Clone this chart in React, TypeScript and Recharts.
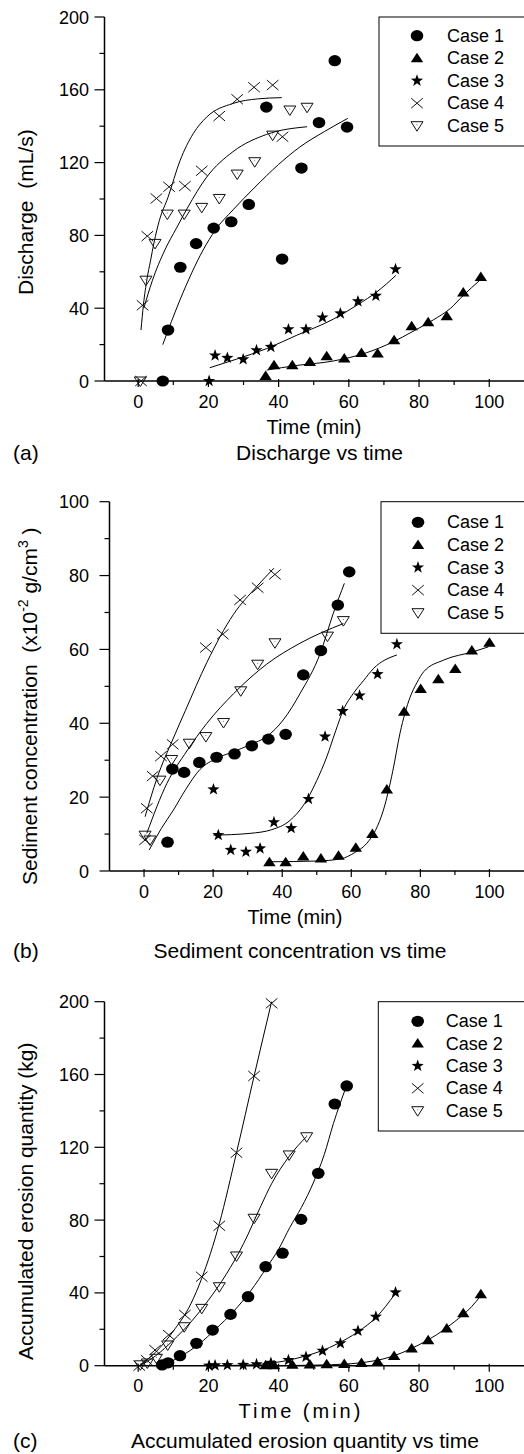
import React from 'react';
import { ComposedChart, Scatter, Line, XAxis, YAxis } from 'recharts';

const FONT = '"Liberation Sans", Arial, Helvetica, sans-serif';

// ---------- labels / ticks ----------
const caseNames = ['Case 1', 'Case 2', 'Case 3', 'Case 4', 'Case 5'];
const xTickValues = [0, 10, 20, 30, 40, 50, 60, 70, 80, 90, 100];
const xLabelValues = [0, 20, 40, 60, 80, 100];
const yTicks200 = [0, 20, 40, 60, 80, 100, 120, 140, 160, 180, 200];
const yLabels200 = [0, 40, 80, 120, 160, 200];
const yTicks100 = [0, 10, 20, 30, 40, 50, 60, 70, 80, 90, 100];
const yLabels100 = [0, 20, 40, 60, 80, 100];

// ---------- (a) Discharge vs time ----------
const dischargeCase1 = [[7, 0], [8.5, 28], [12, 62.5], [16.5, 75.5], [21.5, 84], [26.5, 87.5], [31.5, 97], [36.5, 150.5], [41, 67], [46.5, 117], [51.5, 142], [56, 176], [59.5, 139.5]];
const dischargeCase2 = [[36.3, 2.8], [38.7, 8.6], [43.9, 8.6], [48.9, 10.5], [53.7, 13.6], [58.7, 12.3], [63.6, 15.4], [68.2, 15.1], [72.9, 22.4], [77.9, 30.1], [82.6, 32.3], [87.9, 35.6], [92.6, 48.6], [97.6, 57.2]];
const dischargeCase3 = [[20.2, 0], [21.9, 14], [25.4, 12.7], [29.9, 11.9], [33.7, 16.9], [37.8, 18.7], [42.8, 28.4], [47.8, 28.4], [52.5, 34.9], [57.6, 37.1], [62.6, 43.8], [67.7, 46.8], [73.3, 61.4]];
const dischargeCase4 = [[0.8, 0], [1.25, 41.6], [2.6, 79.6], [5.2, 100.3], [8.8, 106.7], [13.3, 107.1], [18.1, 115.5], [23.1, 145.6], [28.2, 154.8], [33, 161.4], [38.3, 162.6], [41.1, 134.2]];
const dischargeCase5 = [[0.6, 0], [2.2, 55.4], [4.8, 75.6], [8.3, 91.7], [13.1, 91.7], [18.1, 95.4], [23.1, 100.3], [28.2, 113.7], [33.2, 120.5], [38.3, 135.1], [43.2, 148.9], [48.1, 150.4]];

const dischargeFit1 = [[7, 20], [12, 45], [18.5, 72], [22, 83], [27, 94], [33, 106], [40, 119], [46, 128.5], [53, 137], [59.7, 144.3]];
const dischargeFit2 = [[36.6, 6], [45, 8.5], [55.6, 11], [65, 15.5], [72.6, 21.5], [78, 27], [84, 33.5], [89, 40], [92.6, 47], [97.4, 55.5]];
const dischargeFit3 = [[20.4, 7.3], [28, 12], [36.6, 17.8], [45, 25], [55.6, 34], [62.6, 42], [68, 49], [73.4, 58]];
const dischargeFit4 = [[0.8, 28], [1.5, 42], [2.5, 56], [3.5, 66], [4.5, 76], [6, 88], [8.5, 101], [11.9, 121], [15.7, 136], [19.5, 145], [27, 152.5], [34, 155], [40.9, 155.7]];
const dischargeFit5 = [[1.6, 40], [4, 55], [7.6, 72], [10.9, 84], [14, 95], [19.5, 112], [27, 126], [36.6, 135.5], [48.1, 139.7]];

// ---------- (b) Sediment concentration vs time ----------
const sedimentCase1 = [[6.8, 7.8], [8.2, 27.6], [11.6, 26.7], [16, 29.4], [21, 30.8], [26.2, 31.7], [31.2, 33.9], [36, 35.7], [41, 37], [46.1, 53.1], [51.2, 59.7], [56.1, 72], [59.4, 81]];
const sedimentCase2 = [[36.3, 2.4], [41, 2.4], [46.1, 3.9], [51.2, 3.4], [56.3, 4.1], [61.3, 6.3], [66.1, 10], [70.3, 22.1], [75.3, 43.1], [80.1, 49.3], [85.2, 51.9], [90.1, 54.7], [94.9, 59.7], [100, 61.8]];
const sedimentCase3 = [[20.1, 22.1], [21.5, 9.7], [25.1, 5.7], [29.5, 5.2], [33.6, 6.1], [37.6, 13.2], [42.6, 11.6], [47.6, 19.5], [52.4, 36.4], [57.5, 43.3], [62.4, 47.5], [67.6, 53.3], [73.2, 61.4]];
const sedimentCase4 = [[0.3, 8.4], [0.8, 17], [2.5, 25.7], [4.9, 31.1], [8.3, 34.3], [17.9, 60.5], [22.8, 64.1], [27.8, 73.4], [32.9, 76.7], [37.9, 80.3]];
const sedimentCase5 = [[0.3, 9.7], [1.7, 8.4], [4.6, 24.6], [8, 30.2], [13.1, 34.6], [17.9, 36.4], [23, 40.2], [28, 48.8], [32.9, 56], [37.9, 61.8], [53.1, 63.6], [57.7, 67.8]];

const sedimentFit1 = [[1.5, 5.7], [5, 11.5], [8.5, 16.5], [12, 22], [16.2, 27.5], [21, 30.5], [25.9, 32.3], [30.7, 34.2], [35.5, 36.4], [40.3, 40.9], [45.2, 48.1], [51, 58.9], [54.8, 69.8], [58, 77.9]];
const sedimentFit2 = [[36.3, 2.5], [50, 2.7], [57, 3.3], [61, 5], [64.5, 7.5], [67, 11], [69.3, 16.5], [72, 27], [74.1, 37.3], [77, 47], [79, 51], [81, 54], [86.7, 57.1], [95.4, 59.4], [99.7, 60.7]];
const sedimentFit3 = [[20.1, 9.7], [30.7, 10.2], [37, 11.2], [42, 13.5], [47.1, 19.2], [50, 24.5], [52.9, 30.9], [55.5, 38], [57.7, 43.6], [60.6, 48.1], [63.5, 51.5], [66.4, 54.8], [73.2, 58.5]];
const sedimentFit4 = [[0.3, 14.7], [3.7, 25], [8.5, 36], [12, 43.5], [18.2, 56.5], [25.9, 69.5], [32.6, 77], [37.6, 82]];
const sedimentFit5 = [[0.8, 10.2], [6.6, 23.7], [12.4, 32.5], [18.2, 40], [25.9, 48], [35.5, 56], [45.2, 61.7], [57.7, 67]];

// ---------- (c) Accumulated erosion quantity vs time ----------
const erosionCase1 = [[6.8, 0.4], [8.5, 1.6], [11.9, 5.5], [16.6, 12.3], [21.2, 19.6], [26.3, 28.2], [31.3, 37.9], [36.3, 54.4], [41.1, 61.8], [46.4, 80.4], [51.3, 105.7], [56, 143.8], [59.4, 153.7]];
const erosionCase2 = [[36.3, 0.2], [38.7, 0.3], [43.9, 0.5], [48.9, 0.6], [53.7, 0.8], [58.7, 1], [63.6, 1.5], [68.2, 2.2], [72.9, 5.3], [77.9, 9.5], [82.6, 14], [87.9, 20.5], [92.6, 28.8], [97.6, 39.2]];
const erosionCase3 = [[20.2, 0], [21.9, 0.2], [25.4, 0.3], [29.9, 0.4], [33.7, 0.8], [37.8, 1.5], [42.8, 3.1], [47.8, 4.9], [52.5, 8.2], [57.6, 12.3], [62.6, 19.1], [67.7, 26.9], [73.3, 40.3]];
const erosionCase4 = [[0.3, 0], [2.4, 3.1], [4.8, 8.6], [8.7, 16.9], [13.3, 27.9], [18.1, 48.9], [23.1, 76.9], [28, 117], [33, 159.2], [38, 199.1]];
const erosionCase5 = [[0.6, 0.5], [2.6, 1.5], [5.2, 4.1], [8.4, 11.4], [13.1, 21.4], [18.1, 31.5], [23.1, 43.4], [28, 60.3], [33, 81], [38, 105.7], [43, 115.8], [48, 125.8]];

const erosionFit1 = [[6.8, 0], [12, 5], [17.6, 12.3], [22, 20], [27.1, 29.7], [32, 41], [36.6, 54], [40, 64], [43.2, 76], [46.5, 87], [50, 101], [53, 116], [55.6, 133], [58.9, 151.5]];
const erosionFit2 = [[36.3, 0], [50, 0.3], [60, 1], [65, 2], [70, 3.8], [75, 7], [80, 11.5], [85, 17], [90, 24], [95, 32.5], [97.6, 38.5]];
const erosionFit3 = [[20.2, 0], [30, 0.3], [37, 1.2], [42, 2.7], [47, 5], [52, 8], [57, 12.3], [62.5, 18.5], [68, 27], [73, 39]];
const erosionFit4 = [[0.3, 0], [5, 7.5], [10, 19], [15, 34], [18.1, 48], [23.1, 78], [28, 117], [33, 159], [38, 200]];
const erosionFit5 = [[0.5, 0], [5, 5.5], [10, 14], [15, 24], [20, 36], [25, 50], [30, 67], [35, 88], [38, 100], [43, 115], [48, 126]];

const toPts = (arr: number[][]) => arr.map(([x, y]) => ({ x, y }));

// ---------- markers ----------
function marker(kind: number, cx: number, cy: number) {
  if (cx == null || cy == null || isNaN(cx) || isNaN(cy)) return <g />;
  switch (kind) {
    case 0:
      return <ellipse cx={cx} cy={cy} rx={6.3} ry={5.6} fill="#000" />;
    case 1:
      return <polygon points={`${cx},${cy - 5.5} ${cx + 6.2},${cy + 4} ${cx - 6.2},${cy + 4}`} fill="#000" />;
    case 2: {
      const pts: string[] = [];
      for (let i = 0; i < 10; i++) {
        const r = i % 2 === 0 ? 6.4 : 2.6;
        const a = (-90 + i * 36) * Math.PI / 180;
        pts.push(`${cx + r * Math.cos(a)},${cy + r * Math.sin(a)}`);
      }
      return <polygon points={pts.join(' ')} fill="#000" />;
    }
    case 3:
      return (
        <g stroke="#111" strokeWidth={1}>
          <line x1={cx - 5.8} y1={cy - 5} x2={cx + 5.8} y2={cy + 5} />
          <line x1={cx - 5.8} y1={cy + 5} x2={cx + 5.8} y2={cy - 5} />
        </g>
      );
    default:
      return (
        <g>
          <polygon points={`${cx - 6},${cy - 4} ${cx + 6},${cy - 4} ${cx},${cy + 5.5}`} fill="none" stroke="#111" strokeWidth={1} />
          <circle cx={cx} cy={cy - 1} r={0.5} fill="#555" />
        </g>
      );
  }
}

// ---------- ticks ----------
const makeXTick = (labels: number[]) => (p: any) => {
  const v = p.payload.value;
  const major = labels.includes(v);
  return (
    <g>
      <line x1={p.x} x2={p.x} y1={p.y - (major ? 2 : 0)} y2={p.y + (major ? 6 : 4)} stroke="#000" strokeWidth={1.2} />
      {major && (
        <text x={p.x} y={p.y + 26.5} textAnchor="middle" fontFamily={FONT} fontSize={18} fill="#000">{v}</text>
      )}
    </g>
  );
};

const makeYTick = (labels: number[], gap: number) => (p: any) => {
  const v = p.payload.value;
  const major = labels.includes(v);
  return (
    <g>
      <line x1={p.x - (major ? 10 : 5)} x2={p.x} y1={p.y} y2={p.y} stroke="#000" strokeWidth={1.2} />
      {major && (
        <text x={p.x - gap} y={p.y + 6.5} textAnchor="end" fontFamily={FONT} fontSize={18} fill="#000">{v}</text>
      )}
    </g>
  );
};

const makeRightTick = (labels: number[]) => (p: any) => {
  const v = p.payload.value;
  const major = labels.includes(v);
  return <line x1={p.x - (major ? 7 : 4)} x2={p.x} y1={p.y} y2={p.y} stroke="#000" strokeWidth={1.2} />;
};

type PanelProps = {
  top: number;
  height: number;
  marginTop: number;
  marginBottom: number;
  leftWidth: number;
  labelGap: number;
  xDomain: [number, number];
  yDomain: [number, number];
  yTicks: number[];
  yLabels: number[];
  cases: number[][][];
  fits: number[][][];
};

function Panel(props: PanelProps) {
  const axisLine = { stroke: '#000', strokeWidth: 1.5 };
  return (
    <div style={{ position: 'absolute', left: 0, top: props.top, width: 524, height: props.height }}>
      <ComposedChart
        width={524}
        height={props.height}
        margin={{ top: props.marginTop, right: 0, bottom: props.marginBottom, left: 0 }}
      >
        <XAxis
          xAxisId="b"
          dataKey="x"
          type="number"
          domain={props.xDomain}
          ticks={xTickValues}
          interval={0}
          tickLine={false}
          tickSize={0}
          tickMargin={0}
          tick={makeXTick(xLabelValues)}
          axisLine={axisLine}
          height={30}
        />
        <XAxis
          xAxisId="t"
          dataKey="x"
          type="number"
          orientation="top"
          domain={props.xDomain}
          height={0}
          tick={false}
          tickLine={false}
          axisLine={axisLine}
        />
        <YAxis
          yAxisId="l"
          dataKey="y"
          type="number"
          domain={props.yDomain}
          ticks={props.yTicks}
          interval={0}
          width={props.leftWidth}
          tickLine={false}
          tickSize={0}
          tickMargin={0}
          tick={makeYTick(props.yLabels, props.labelGap)}
          axisLine={axisLine}
        />
        <YAxis
          yAxisId="r"
          dataKey="y"
          type="number"
          orientation="right"
          domain={props.yDomain}
          ticks={props.yTicks}
          interval={0}
          width={0}
          tickLine={false}
          tickSize={0}
          tickMargin={0}
          tick={makeRightTick(props.yLabels)}
          axisLine={axisLine}
        />
        {props.fits.map((f, i) => (
          <Line
            key={'fit' + i}
            xAxisId="b"
            yAxisId="l"
            data={toPts(f)}
            dataKey="y"
            type="monotone"
            dot={false}
            activeDot={false}
            stroke="#000"
            strokeWidth={1}
            isAnimationActive={false}
          />
        ))}
        {props.cases.map((c, i) => (
          <Scatter
            key={'case' + i}
            name={caseNames[i]}
            xAxisId="b"
            yAxisId="l"
            data={toPts(c)}
            dataKey="y"
            shape={(p: any) => marker(i, p.cx, p.cy)}
            isAnimationActive={false}
          />
        ))}
      </ComposedChart>
    </div>
  );
}

function LegendBox({ left, top, bottom, symX, textX, baselines }: { left: number; top: number; bottom: number; symX: number; textX: number; baselines: number[] }) {
  return (
    <g>
      <rect x={left} y={top} width={524 - left + 5} height={bottom - top} fill="#fff" stroke="#000" strokeWidth={1} />
      {caseNames.map((n, i) => (
        <g key={n}>
          {marker(i, symX, baselines[i] - 6)}
          <text x={textX} y={baselines[i]} fontFamily={FONT} fontSize={18} fill="#000">{n}</text>
        </g>
      ))}
    </g>
  );
}

export default function App() {
  const txt = { fontFamily: FONT, fill: '#000', style: { whiteSpace: 'pre' as const } };
  return (
    <div style={{ position: 'absolute', left: 0, top: 0, width: 524, height: 1454, overflow: 'hidden', background: '#fff' }}>
      <Panel
        top={0}
        height={470}
        marginTop={17}
        marginBottom={59}
        leftWidth={104.5}
        labelGap={15.5}
        xDomain={[-9.6, 109.9]}
        yDomain={[0, 200]}
        yTicks={yTicks200}
        yLabels={yLabels200}
        cases={[dischargeCase1, dischargeCase2, dischargeCase3, dischargeCase4, dischargeCase5]}
        fits={[dischargeFit1, dischargeFit2, dischargeFit3, dischargeFit4, dischargeFit5]}
      />
      <Panel
        top={470}
        height={490}
        marginTop={31.7}
        marginBottom={59}
        leftWidth={109.5}
        labelGap={20.5}
        xDomain={[-10, 110]}
        yDomain={[0, 100]}
        yTicks={yTicks100}
        yLabels={yLabels100}
        cases={[sedimentCase1, sedimentCase2, sedimentCase3, sedimentCase4, sedimentCase5]}
        fits={[sedimentFit1, sedimentFit2, sedimentFit3, sedimentFit4, sedimentFit5]}
      />
      <Panel
        top={960}
        height={494}
        marginTop={41.7}
        marginBottom={58.3}
        leftWidth={104.5}
        labelGap={15.5}
        xDomain={[-9.6, 109.9]}
        yDomain={[0, 200]}
        yTicks={yTicks200}
        yLabels={yLabels200}
        cases={[erosionCase1, erosionCase2, erosionCase3, erosionCase4, erosionCase5]}
        fits={[erosionFit1, erosionFit2, erosionFit3, erosionFit4, erosionFit5]}
      />
      <svg width={524} height={1454} style={{ position: 'absolute', left: 0, top: 0, pointerEvents: 'none' }}>
        <LegendBox left={379} top={17} bottom={146} symX={417} textX={447} baselines={[41.7, 64.2, 86.7, 109.2, 131.7]} />
        <LegendBox left={381} top={501.7} bottom={633.3} symX={418} textX={447} baselines={[528.3, 550.9, 573.5, 596.1, 618.7]} />
        <LegendBox left={378.3} top={1001.7} bottom={1131} symX={417.7} textX={445.7} baselines={[1027.3, 1049.6, 1071.9, 1094.3, 1116.7]} />

        {/* panel (a) */}
        <text {...txt} fontSize={21} x={33} y={295} transform="rotate(-90 33 295)">{'Discharge  (mL/s)'}</text>
        <text {...txt} fontSize={20} x={314} y={434} textAnchor="middle">Time (min)</text>
        <text {...txt} fontSize={21} x={13} y={460}>(a)</text>
        <text {...txt} fontSize={21} x={319.5} y={460} textAnchor="middle">Discharge vs time</text>

        {/* panel (b) */}
        <text {...txt} fontSize={21} x={37} y={885} transform="rotate(-90 37 885)">
          {'Sediment concentration  (x10'}
          <tspan fontSize={14} dy={-9}>-2</tspan>
          <tspan dy={9}>{' g/cm'}</tspan>
          <tspan fontSize={14} dy={-9}>3</tspan>
          <tspan dy={9}>{' )'}</tspan>
        </text>
        <text {...txt} fontSize={20} x={295} y={924} textAnchor="middle">Time (min)</text>
        <text {...txt} fontSize={21} x={13} y={958.3}>(b)</text>
        <text {...txt} fontSize={21} x={300} y={958.3} textAnchor="middle">Sediment concentration vs time</text>

        {/* panel (c) */}
        <text {...txt} fontSize={21} x={33} y={1360} transform="rotate(-90 33 1360)">Accumulated erosion quantity (kg)</text>
        <text {...txt} fontSize={20} x={301} y={1418} textAnchor="middle" letterSpacing={3}>Time (min)</text>
        <text {...txt} fontSize={21} x={13} y={1448.3}>(c)</text>
        <text {...txt} fontSize={21} x={305} y={1448.3} textAnchor="middle">Accumulated erosion quantity vs time</text>
      </svg>
    </div>
  );
}
